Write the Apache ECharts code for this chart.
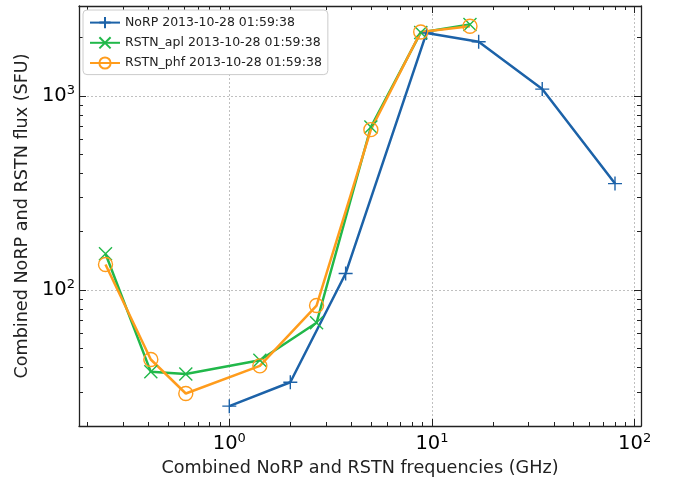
<!DOCTYPE html>
<html>
<head>
<meta charset="utf-8">
<script src="https://cdn.jsdelivr.net/npm/echarts@6/dist/echarts.min.js"></script>
<style>
  html, body { margin: 0; padding: 0; background: #fff; }
  #chart { width: 678px; height: 483px; }
</style>
</head>
<body>
<div id="chart"></div>
<script>
// frequencies (GHz) and flux (SFU)
const norpFreq = [1.0, 2.0, 3.75, 9.4, 17, 35, 80];
const norpFlux = [25.3, 33.6, 122, 2110, 1900, 1085, 354];
const rstnFreq = [0.245, 0.41, 0.61, 1.415, 2.695, 4.995, 8.8, 15.4];
const aplFlux = [154, 38, 37, 43.6, 68, 692, 2120, 2330];
const phfFlux = [135.6, 44, 29.4, 40.8, 83.4, 671, 2135, 2284];

const xMajor = [1, 10, 100];
const xMinor = [0.2, 0.3, 0.4, 0.5, 0.6, 0.7, 0.8, 0.9, 2, 3, 4, 5, 6, 7, 8, 9, 20, 30, 40, 50, 60, 70, 80, 90];
const yMajor = [100, 1000];
const yMinor = [30, 40, 50, 60, 70, 80, 90, 200, 300, 400, 500, 600, 700, 800, 900, 2000];

const seriesNames = ['NoRP 2013-10-28 01:59:38', 'RSTN_apl 2013-10-28 01:59:38', 'RSTN_phf 2013-10-28 01:59:38'];
const colors = ['#1c62a8', '#21b84a', '#ff9c1c'];

const X_MIN = 0.1813, X_MAX = 107.5, Y_MIN = 20.0, Y_MAX = 2905;

const pairs = (xs, ys) => xs.map((x, i) => [x, ys[i]]);

const powLabel = v => '{b|10}{s|' + Math.round(Math.log10(v)) + '}';
const labelRich = {
  b: { fontSize: 19.5, fontFamily: 'DejaVu Sans', color: '#000' },
  s: { fontSize: 13, fontFamily: 'DejaVu Sans', color: '#000', padding: [0, 0, 11, 0] }
};

function xAxisDef(pos, major, main) {
  return {
    type: 'log', gridIndex: 0, position: pos, min: X_MIN, max: X_MAX,
    name: main ? 'Combined NoRP and RSTN frequencies (GHz)' : '',
    nameLocation: 'middle', nameGap: 33,
    nameTextStyle: { fontSize: 17.6, fontFamily: 'DejaVu Sans', color: '#222' },
    axisLine: { show: major, onZero: false, lineStyle: { color: '#222', width: 1.3 } },
    axisTick: { show: true, inside: true, length: major ? 7 : 4, customValues: major ? xMajor : xMinor,
                lineStyle: { color: '#222', width: 1 } },
    axisLabel: { show: main, customValues: xMajor, formatter: powLabel, rich: labelRich, margin: 6 },
    splitLine: { show: main, lineStyle: { color: '#b0b0b0', width: 0.8, type: [2, 2] } },
    minorTick: { show: false }, minorSplitLine: { show: false }
  };
}
function yAxisDef(pos, major, main) {
  return {
    type: 'log', gridIndex: 0, position: pos, min: Y_MIN, max: Y_MAX,
    name: main ? 'Combined NoRP and RSTN flux (SFU)' : '',
    nameLocation: 'middle', nameGap: 48,
    nameTextStyle: { fontSize: 17.6, fontFamily: 'DejaVu Sans', color: '#222' },
    axisLine: { show: major, onZero: false, lineStyle: { color: '#222', width: 1.3 } },
    axisTick: { show: true, inside: true, length: major ? 7 : 4, customValues: major ? yMajor : yMinor,
                lineStyle: { color: '#222', width: 1 } },
    axisLabel: { show: main, customValues: yMajor, formatter: powLabel, rich: labelRich, margin: 4 },
    splitLine: { show: main, lineStyle: { color: '#b0b0b0', width: 0.8, type: [2, 2] } },
    minorTick: { show: false }, minorSplitLine: { show: false }
  };
}

const plusPath = 'path://M7,0L7,14M0,7L14,7';
const crossPath = 'path://M0,0L14,14M14,0L0,14';

const chart = echarts.init(document.getElementById('chart'), null, { renderer: 'canvas' });
chart.setOption({
  animation: false,
  backgroundColor: '#fff',
  grid: { left: 79, right: 37, top: 6, bottom: 57 },
  legend: {
    left: 83, top: 10, orient: 'vertical',
    padding: [6, 6, 5, 6], itemGap: 7, itemWidth: 30, itemHeight: 14,
    backgroundColor: '#fff', borderColor: '#ccc', borderWidth: 1, borderRadius: 4,
    textStyle: { fontSize: 12.5, fontFamily: 'DejaVu Sans', color: '#222' },
    data: seriesNames
  },
  xAxis: [xAxisDef('bottom', true, true), xAxisDef('bottom', false, false),
          xAxisDef('top', true, false), xAxisDef('top', false, false)],
  yAxis: [yAxisDef('left', true, true), yAxisDef('left', false, false),
          yAxisDef('right', true, false), yAxisDef('right', false, false)],
  series: [
    {
      name: seriesNames[0], type: 'line', data: pairs(norpFreq, norpFlux),
      symbol: plusPath, symbolSize: 14,
      lineStyle: { color: colors[0], width: 2.5 },
      itemStyle: { color: colors[0], borderColor: colors[0], borderWidth: 1.4 }
    },
    {
      name: seriesNames[1], type: 'line', data: pairs(rstnFreq, aplFlux),
      symbol: crossPath, symbolSize: 13,
      lineStyle: { color: colors[1], width: 2.5 },
      itemStyle: { color: colors[1], borderColor: colors[1], borderWidth: 1.4 }
    },
    {
      name: seriesNames[2], type: 'line', data: pairs(rstnFreq, phfFlux),
      symbol: 'circle', symbolSize: 14,
      lineStyle: { color: colors[2], width: 2.5 },
      itemStyle: { color: 'rgba(0,0,0,0)', borderColor: colors[2], borderWidth: 1.4 }
    }
  ]
});
</script>
</body>
</html>
